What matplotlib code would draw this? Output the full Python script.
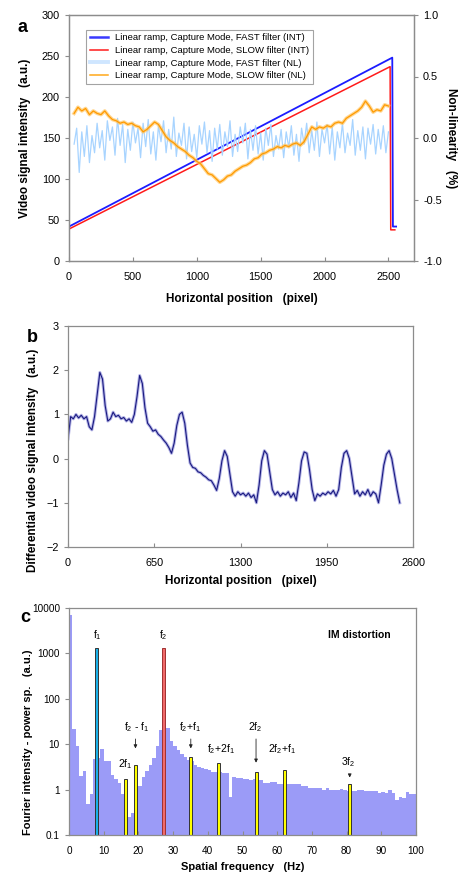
import numpy as np
import matplotlib
matplotlib.use("Agg")
import matplotlib.pyplot as plt
from matplotlib.lines import Line2D

plt.rcParams['font.family'] = ['Liberation Sans', 'DejaVu Sans']
plt.rcParams['mathtext.fontset'] = 'custom'
plt.rcParams['mathtext.rm'] = 'Liberation Sans'
plt.rcParams['mathtext.it'] = 'Liberation Sans'
plt.rcParams['mathtext.default'] = 'regular'

# ---- panel a : ramps (left axis) and non-linearity (right axis)
ramp_fast_x = [0, 2530, 2535, 2560]
ramp_fast_y = [42, 248, 42, 42]
ramp_slow_x = [0, 2513, 2518, 2550]
ramp_slow_y = [39, 237, 38, 38]

nl_fast_x = np.arange(40, 2501, 20)
nl_fast = [-0.05, 0.08, -0.28, 0.05, -0.15, 0.10, -0.20, 0.02, -0.12, 0.12, -0.08, 0.06,
           -0.18, 0.14, -0.02, 0.09, -0.14, 0.16, -0.06, 0.11, -0.20, 0.07, -0.10, 0.13,
           -0.04, 0.08, -0.16, 0.12, -0.07, 0.15, -0.13, 0.05, -0.18, 0.10, -0.03, 0.14,
           -0.12, 0.07, -0.09, 0.17, -0.15, 0.04, -0.06, 0.12, -0.17, 0.09, -0.11, 0.03,
           -0.16, 0.10, -0.05, 0.13, -0.12, 0.06, -0.19, 0.08, -0.09, 0.11, -0.14, 0.05,
           -0.07, 0.14, -0.15, 0.03, -0.11, 0.09, -0.04, 0.12, -0.17, 0.07, -0.10, 0.10,
           -0.13, 0.04, -0.18, 0.08, -0.06, 0.11, -0.15, 0.02, -0.09, 0.07, -0.16, 0.05,
           -0.08, 0.10, -0.14, 0.03, -0.19, 0.08, -0.05, 0.12, -0.12, 0.06, -0.10, 0.13,
           -0.15, 0.07, -0.04, 0.11, -0.13, 0.09, -0.18, 0.05, -0.08, 0.12, -0.12, 0.04,
           -0.06, 0.15, -0.14, 0.06, -0.10, 0.09, -0.17, 0.08, -0.05, 0.11, -0.13, 0.07,
           -0.09, 0.10, -0.12, 0.05]

nl_slow_x = np.arange(40, 2501, 30)
nl_slow = [0.20, 0.25, 0.22, 0.24, 0.19, 0.22, 0.20, 0.19, 0.22, 0.18,
           0.15, 0.14, 0.12, 0.13, 0.11, 0.12, 0.10, 0.09, 0.05, 0.07,
           0.10, 0.13, 0.11, 0.06, 0.01, -0.02, -0.04, -0.07, -0.09, -0.11,
           -0.14, -0.16, -0.19, -0.21, -0.25, -0.29, -0.30, -0.33, -0.36, -0.34,
           -0.31, -0.30, -0.27, -0.25, -0.23, -0.22, -0.20, -0.17, -0.16, -0.13,
           -0.12, -0.10, -0.09, -0.07, -0.08, -0.06, -0.07, -0.05, -0.04, -0.06,
           -0.03, 0.03, 0.09, 0.07, 0.09, 0.08, 0.10, 0.09, 0.12, 0.13,
           0.12, 0.16, 0.18, 0.20, 0.22, 0.25, 0.30, 0.26, 0.21, 0.23,
           0.22, 0.27, 0.26]

legend_labels = ['Linear ramp, Capture Mode, FAST filter (INT)',
                 'Linear ramp, Capture Mode, SLOW filter (INT)',
                 'Linear ramp, Capture Mode, FAST filter (NL)',
                 'Linear ramp, Capture Mode, SLOW filter (NL)']

# ---- panel b : differential signal
diff_x = np.arange(0, 2501, 20)
diff_y = [0.45, 0.95, 0.90, 1.00, 0.92, 0.98, 0.90, 0.95, 0.72, 0.65,
          0.95, 1.45, 1.95, 1.80, 1.20, 0.85, 0.90, 1.05, 0.95, 0.98,
          0.90, 0.93, 0.85, 0.90, 0.82, 1.00, 1.40, 1.88, 1.70, 1.15,
          0.80, 0.72, 0.62, 0.65, 0.55, 0.50, 0.42, 0.35, 0.25, 0.12,
          0.35, 0.75, 1.00, 1.05, 0.80, 0.30, -0.10, -0.20, -0.22, -0.30,
          -0.32, -0.38, -0.42, -0.48, -0.50, -0.60, -0.72, -0.45, -0.05, 0.18,
          0.05, -0.35, -0.75, -0.85, -0.75, -0.82, -0.78, -0.85, -0.78, -0.88,
          -0.82, -1.00, -0.60, -0.05, 0.18, 0.10, -0.30, -0.70, -0.82, -0.75,
          -0.85, -0.78, -0.82, -0.75, -0.88, -0.78, -0.95, -0.55, -0.05, 0.15,
          0.12, -0.25, -0.70, -0.95, -0.80, -0.85, -0.78, -0.82, -0.75, -0.80,
          -0.72, -0.85, -0.70, -0.20, 0.12, 0.18, 0.00, -0.40, -0.80, -0.72,
          -0.85, -0.75, -0.82, -0.70, -0.85, -0.75, -0.80, -1.00, -0.60, -0.15,
          0.10, 0.18, 0.00, -0.35, -0.70, -1.00]

# ---- panel c : spectrum (1 Hz bins) and marked components
spectrum = [7000, 22, 9.3, 2.0, 2.6, 0.48, 0.8, 4.7, 5.0, 7.8,
            4.3, 4.3, 2.1, 1.7, 1.4, 0.8, 0.25, 0.25, 0.3, 1.2,
            1.2, 1.9, 2.6, 3.5, 5.0, 9.3, 21, 20, 23, 12,
            9.2, 7.4, 6.1, 5.2, 4.6, 4.3, 3.4, 3.2, 3.0, 2.8,
            2.7, 2.5, 2.5, 2.4, 2.3, 2.3, 0.7, 1.9, 1.8, 1.8,
            1.7, 1.7, 1.6, 1.7, 1.6, 1.6, 1.4, 1.4, 1.5, 1.5,
            1.3, 1.3, 1.3, 1.3, 1.3, 1.3, 1.3, 1.2, 1.2, 1.1,
            1.1, 1.1, 1.1, 1.0, 1.1, 1.0, 1.0, 1.0, 1.05, 1.0,
            0.95, 0.95, 0.95, 1.0, 0.96, 0.95, 0.94, 0.95, 0.94, 0.85,
            0.9, 0.85, 0.96, 0.83, 0.6, 0.7, 0.65, 0.9, 0.8, 0.8]
peak_freq = [8.05, 27.1]
peak_amp = [1300, 1300]
peak_names = ['f$_1$', 'f$_2$']
im_freq = [16.15, 19.15, 35.1, 43.0, 53.9, 62.0, 80.9]
im_amp = [1.7, 3.4, 5.3, 3.9, 2.5, 2.7, 1.3]

grey = '#8c8c8c'
fs_ab = 7.8
fs_c = 7.2
lab_ab = 8.5
lab_c = 8.0

fig = plt.figure(figsize=(4.61, 8.73), dpi=100)


def style(ax, size):
    for s in ax.spines.values():
        s.set_color(grey)
        s.set_linewidth(0.9)
    ax.tick_params(labelsize=size, color=grey, length=3, width=0.8)


# panel a
ax = fig.add_axes([69 / 461, 1 - 261 / 873, 345 / 461, 246 / 873])
ax.plot(ramp_fast_x, ramp_fast_y, color='#1c1cff', lw=1.3)
ax.plot(ramp_slow_x, ramp_slow_y, color='#ff1a1a', lw=1.1)
ax.set_xlim(0, 2700)
ax.set_ylim(0, 300)
ax.set_xticks(range(0, 2501, 500))
ax.set_yticks(range(0, 301, 50))
ax.tick_params(axis='x', direction='in', pad=8)
ax.set_xlabel('Horizontal position   (pixel)', fontsize=lab_ab, fontweight='bold', labelpad=8)
ax.set_ylabel('Video signal intensity   (a.u.)', fontsize=lab_ab, fontweight='bold', labelpad=8)
style(ax, fs_ab)
ax2 = ax.twinx()
ax2.plot(nl_fast_x, nl_fast, color='#a8d4ff', lw=0.9)
ax2.plot(nl_slow_x, nl_slow, color='#ffc766', lw=2.6, alpha=0.7)
ax2.plot(nl_slow_x, nl_slow, color='#ff9a00', lw=0.9)
ax2.set_ylim(-1, 1)
ax2.set_yticks([-1, -0.5, 0, 0.5, 1])
ax2.set_yticklabels(['-1.0', '-0.5', '0.0', '0.5', '1.0'])
ax2.set_ylabel('Non-linearity   (%)', fontsize=lab_ab, fontweight='bold', rotation=270,
               labelpad=11)
style(ax2, fs_ab)
handles = [Line2D([], [], color='#3a3aff', lw=1.8),
           Line2D([], [], color='#ff1a1a', lw=1.1),
           Line2D([], [], color='#cfe6ff', lw=2.8),
           Line2D([], [], color='#ffa81a', lw=1.1)]
leg = ax2.legend(handles, legend_labels, loc='upper left', bbox_to_anchor=(0.035, 0.96),
                 fontsize=6.8, frameon=True, fancybox=False, edgecolor=grey,
                 handlelength=1.9, labelspacing=0.38, borderpad=0.4, handletextpad=0.8)
leg.get_frame().set_linewidth(0.8)

# panel b
bx = fig.add_axes([68 / 461, 1 - 547 / 873, 345 / 461, 221 / 873])
bx.plot(diff_x, diff_y, color='#b4b4e6', lw=2.2)
bx.plot(diff_x, diff_y, color='#1a1a80', lw=0.8)
bx.set_xlim(0, 2600)
bx.set_ylim(-2, 3)
bx.set_xticks(range(0, 2601, 650))
bx.set_yticks(range(-2, 4))
bx.tick_params(axis='x', direction='in', pad=8)
bx.set_xlabel('Horizontal position   (pixel)', fontsize=lab_ab, fontweight='bold', labelpad=5)
bx.set_ylabel('Differential video signal intensity   (a.u.)', fontsize=lab_ab,
              fontweight='bold')
bx.yaxis.set_label_coords(-0.085, 0.39)
style(bx, fs_ab)

# panel c
cx = fig.add_axes([69 / 461, 1 - 835 / 873, 347 / 461, 227 / 873])
cx.set_yscale('log')
cx.stairs(spectrum, np.arange(len(spectrum) + 1), fill=True, baseline=0.1, color='#9b9bf7')
cx.bar(peak_freq[0], peak_amp[0] - 0.1, bottom=0.1, width=0.85, color='#1ab0e8',
       edgecolor='#333333', lw=0.7)
cx.bar(peak_freq[1], peak_amp[1] - 0.1, bottom=0.1, width=0.85, color='#f06a6a',
       edgecolor='#a03030', lw=0.7)
cx.bar(im_freq, np.array(im_amp) - 0.1, bottom=0.1, width=0.85, color='#ffff00',
       edgecolor='#333333', lw=0.7)
cx.set_xlim(0, 100)
cx.set_ylim(0.1, 10000)
cx.set_xticks(range(0, 101, 10))
cx.set_yticks([0.1, 1, 10, 100, 1000, 10000])
cx.set_yticklabels(['0.1', '1', '10', '100', '1000', '10000'])
cx.minorticks_off()
cx.tick_params(axis='x', direction='in', pad=8)
cx.set_xlabel('Spatial frequency   (Hz)', fontsize=lab_c, fontweight='bold', labelpad=4)
cx.set_ylabel('Fourier intensity - power sp.   (a.u.)', fontsize=lab_c, fontweight='bold')
cx.yaxis.set_label_coords(-0.105, 0.41)
style(cx, fs_c)

tf = 7.5
for f, n in zip(peak_freq, peak_names):
    cx.text(f, 2500, n, ha='center', va='center', fontsize=tf)
arrow = dict(arrowstyle='-|>', color='#222222', lw=0.6, mutation_scale=5)
cx.text(16.3, 3.6, '2f$_1$', ha='center', va='center', fontsize=tf)
cx.text(19.6, 24, 'f$_2$ - f$_1$', ha='center', va='center', fontsize=tf)
cx.annotate('', xy=(19.15, 7.0), xytext=(19.15, 15), arrowprops=arrow)
cx.text(34.8, 24, 'f$_2$+f$_1$', ha='center', va='center', fontsize=tf)
cx.annotate('', xy=(35.1, 7.0), xytext=(35.1, 15), arrowprops=arrow)
cx.text(43.8, 7.9, 'f$_2$+2f$_1$', ha='center', va='center', fontsize=tf)
cx.text(53.8, 24, '2f$_2$', ha='center', va='center', fontsize=tf)
cx.annotate('', xy=(53.9, 3.4), xytext=(53.9, 15), arrowprops=arrow)
cx.text(61.5, 7.9, '2f$_2$+f$_1$', ha='center', va='center', fontsize=tf)
cx.text(80.5, 4.1, '3f$_2$', ha='center', va='center', fontsize=tf)
cx.annotate('', xy=(80.9, 1.6), xytext=(80.9, 2.5), arrowprops=arrow)
cx.text(83.6, 2500, 'IM distortion', ha='center', va='center', fontsize=tf, fontweight='bold')

# panel letters
fig.text(22 / 461, 1 - 27 / 873, 'a', fontsize=13, fontweight='bold', ha='center', va='center')
fig.text(32 / 461, 1 - 338 / 873, 'b', fontsize=13, fontweight='bold', ha='center', va='center')
fig.text(25 / 461, 1 - 618 / 873, 'c', fontsize=13, fontweight='bold', ha='center', va='center')

fig.savefig('out.png', dpi=100)
